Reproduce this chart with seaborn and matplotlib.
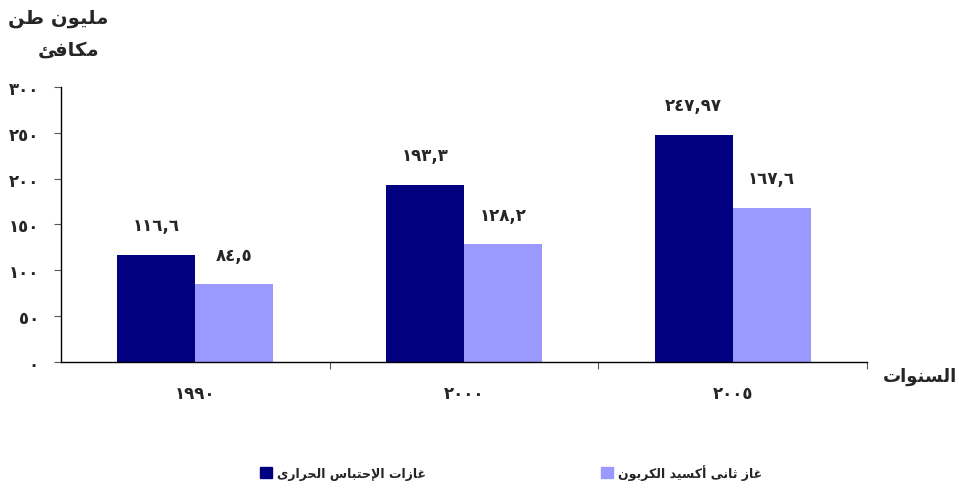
import pandas as pd
import seaborn as sns
import matplotlib.pyplot as plt

# data
years = ["١٩٩٠", "٢٠٠٠", "٢٠٠٥"]
series_names = ["غازات الإحتباس الحرارى", "غاز ثانى أكسيد الكربون"]
greenhouse = [116.6, 193.3, 247.97]
co2 = [84.5, 128.2, 167.6]
greenhouse_labels = ["١١٦,٦", "١٩٣,٣", "٢٤٧,٩٧"]
co2_labels = ["٨٤,٥", "١٢٨,٢", "١٦٧,٦"]
y_ticks = [0, 50, 100, 150, 200, 250, 300]
y_tick_labels = ["٠", "٥٠", "١٠٠", "١٥٠", "٢٠٠", "٢٥٠", "٣٠٠"]
colors = ["#000080", "#9999FF"]

# matplotlib has no arabic shaping, so pick presentation forms by hand
ISOL = {
    "ا": 0xFE8D, "أ": 0xFE83, "إ": 0xFE87, "ب": 0xFE8F, "ت": 0xFE95,
    "ث": 0xFE99, "ح": 0xFEA1, "د": 0xFEA9, "ر": 0xFEAD, "ز": 0xFEAF,
    "س": 0xFEB1, "ط": 0xFEC1, "غ": 0xFECD, "ف": 0xFED1, "ك": 0xFED9,
    "ل": 0xFEDD, "م": 0xFEE1, "ن": 0xFEE5, "و": 0xFEED, "ى": 0xFEEF,
    "ي": 0xFEF1, "ئ": 0xFE89,
}
RIGHT_ONLY = set("اأإدرزوى")
LAM_ALEF = {"ا": 0xFEFB, "أ": 0xFEF7, "إ": 0xFEF9}


def shape(text):
    tokens = []  # (code or char, is_arabic, dual)
    i = 0
    while i < len(text):
        c = text[i]
        if c == "ل" and i + 1 < len(text) and text[i + 1] in LAM_ALEF:
            tokens.append((LAM_ALEF[text[i + 1]], True, False))
            i += 2
            continue
        if c in ISOL:
            tokens.append((ISOL[c], True, c not in RIGHT_ONLY))
        else:
            tokens.append((c, False, False))
        i += 1
    out = []
    for k, (code, arabic, dual) in enumerate(tokens):
        if not arabic:
            out.append(code)
            continue
        prev = k > 0 and tokens[k - 1][1] and tokens[k - 1][2]
        nxt = dual and k + 1 < len(tokens) and tokens[k + 1][1]
        if prev and nxt:
            off = 3
        elif prev:
            off = 1
        elif nxt:
            off = 2
        else:
            off = 0
        out.append(chr(code + off))
    return "".join(out[::-1])


df = pd.DataFrame({
    "year": years * 2,
    "value": greenhouse + co2,
    "series": [series_names[0]] * 3 + [series_names[1]] * 3,
})

sns.set_style("ticks")
plt.rcParams["font.family"] = ["DejaVu Sans"]
plt.rcParams["font.weight"] = "bold"

fig = plt.figure(figsize=(9.59, 4.89), dpi=100)
ax = fig.add_axes([0.0636, 0.258, 0.8405, 0.562])

sns.barplot(data=df, x="year", y="value", hue="series", order=years,
            hue_order=series_names, palette=colors, width=0.58,
            saturation=1, linewidth=0, ax=ax, legend=False)

for cont, labs in zip(ax.containers, [greenhouse_labels, co2_labels]):
    ax.bar_label(cont, labels=labs, padding=15, fontsize=12, fontweight="bold")

ax.set_ylim(0, 300)
ax.set_xlim(-0.5, 2.5)
ax.set_yticks(y_ticks)
ax.set_yticklabels(y_tick_labels, fontsize=12, fontweight="bold")
ax.tick_params(axis="y", length=5, width=0.8, pad=11, color="#555555")
ax.set_xticks(range(len(years)))
ax.set_xticklabels(years, fontsize=12, fontweight="bold")
ax.tick_params(axis="x", which="major", length=0, pad=16)
ax.set_xticks([0.5, 1.5, 2.5], minor=True)
ax.tick_params(axis="x", which="minor", length=5, width=0.8, color="#555555")
ax.set_xlabel("")
ax.set_ylabel("")
sns.despine(ax=ax)
for s in ["left", "bottom"]:
    ax.spines[s].set_color("black")
    ax.spines[s].set_linewidth(1)

fig.text(0.113, 0.962, shape("مليون طن"), ha="right", va="center",
         fontsize=14, fontweight="bold")
fig.text(0.104, 0.897, shape("مكافئ"), ha="right", va="center",
         fontsize=14, fontweight="bold")
fig.text(0.998, 0.229, shape("السنوات"), ha="right", va="center",
         fontsize=13, fontweight="bold")

handles = [plt.Rectangle((0, 0), 1, 1, color=c) for c in colors]
fig.legend(handles, [shape(n) for n in series_names], ncol=2,
           loc="center", bbox_to_anchor=(0.533, 0.033), frameon=False,
           prop={"size": 9, "weight": "bold"}, handlelength=0.95,
           handleheight=0.95, handletextpad=0.4, columnspacing=14)

fig.savefig("out.png", dpi=100)
